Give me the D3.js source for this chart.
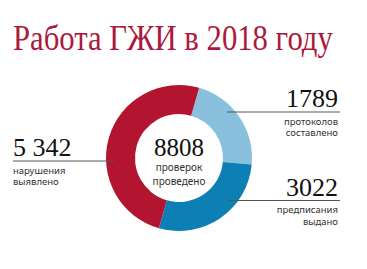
<!DOCTYPE html>
<html>
<head>
<meta charset="utf-8">
<script src="https://cdn.jsdelivr.net/npm/d3@7"></script>
<style>
	body { margin: 0; background: #fff; }
	svg { display: block; }
</style>
</head>
<body>
<svg id="chart"></svg>
<script>
// chart data
const title = "Работа ГЖИ в 2018 году";
const categories = ["протоколов составлено", "предписания выдано", "нарушения выявлено"];
const values = [1789, 3022, 5342];
const valueLabels = ["1789", "3022", "5 342"];
// share of the ring each slice takes in the picture (%)
const ringShare = [22, 28, 50];
const colors = ["#88c0dd", "#0c80b5", "#b3142f"];
const centerValue = "8808";
const centerLabel = ["проверок", "проведено"];

function renderDonut() {
	let canvas = {"width": 367, "height": 269};
	let cx = 179, cy = 158;
	let outerR = 73, innerR = 44;

	const svg = d3.select("#chart")
		.attr("width", canvas.width)
		.attr("height", canvas.height);

	// title, squeezed horizontally to the reference width
	const titleText = svg.append("text")
		.text(title)
		.attr("font-family", "Liberation Serif, serif")
		.attr("font-size", 36)
		.attr("fill", "#ab1a3c");
	let w = titleText.node().getComputedTextLength();
	titleText.attr("transform", `translate(13,50) scale(${320 / w},1)`);

	let sliceData = categories.map((c, i) => ({"category": c, "value": values[i], "share": ringShare[i], "color": colors[i]}));

	const pie = d3.pie()
		.value(d => d.share)
		.sort(null)
		.startAngle(16 * Math.PI / 180)
		.endAngle(376 * Math.PI / 180);

	const arc = d3.arc()
		.innerRadius(innerR)
		.outerRadius(outerR);

	const g = svg.append("g")
		.attr("transform", `translate(${cx},${cy})`);

	g.selectAll(".slice")
		.data(pie(sliceData))
		.join("path")
		.attr("class", "slice")
		.attr("d", arc)
		.attr("fill", d => d.data.color);

	// leader lines and labels
	let labels = [
		{"i": 0, "x1": 227, "x2": 340, "y": 112, "anchor": "end", "tx": 338},
		{"i": 1, "x1": 228, "x2": 340, "y": 200.5, "anchor": "end", "tx": 338},
		{"i": 2, "x1": 13, "x2": 114, "y": 161, "anchor": "start", "tx": 13}
	];

	svg.selectAll(".leader")
		.data(labels)
		.join("line")
		.attr("class", "leader")
		.attr("x1", d => d.x1)
		.attr("x2", d => d.x2)
		.attr("y1", d => d.y)
		.attr("y2", d => d.y)
		.attr("stroke", "#555")
		.attr("stroke-width", 1);

	svg.selectAll(".num")
		.data(labels)
		.join("text")
		.attr("class", "num")
		.text(d => valueLabels[d.i])
		.attr("x", d => d.tx)
		.attr("y", d => d.y - 5)
		.attr("text-anchor", d => d.anchor)
		.attr("font-family", "Liberation Serif, serif")
		.attr("font-size", 26)
		.attr("fill", "#111");

	labels.forEach(d => {
		let words = categories[d.i].split(" ");
		words.forEach((w, k) => {
			svg.append("text")
				.text(w)
				.attr("x", d.tx)
				.attr("y", d.y + 12.5 + k * 11.5)
				.attr("text-anchor", d.anchor)
				.attr("font-family", "Noto Sans, sans-serif")
				.attr("font-size", 9.5)
				.attr("fill", "#333");
		});
	});

	// centre text
	svg.append("text")
		.text(centerValue)
		.attr("x", cx)
		.attr("y", 155.5)
		.attr("text-anchor", "middle")
		.attr("font-family", "Liberation Serif, serif")
		.attr("font-size", 25)
		.attr("fill", "#111");

	svg.selectAll(".clabel")
		.data(centerLabel)
		.join("text")
		.attr("class", "clabel")
		.text(d => d)
		.attr("x", cx)
		.attr("y", (d, i) => 171 + i * 14)
		.attr("text-anchor", "middle")
		.attr("font-family", "Noto Sans, sans-serif")
		.attr("font-size", 10)
		.attr("fill", "#333");
}

renderDonut();
</script>
</body>
</html>
